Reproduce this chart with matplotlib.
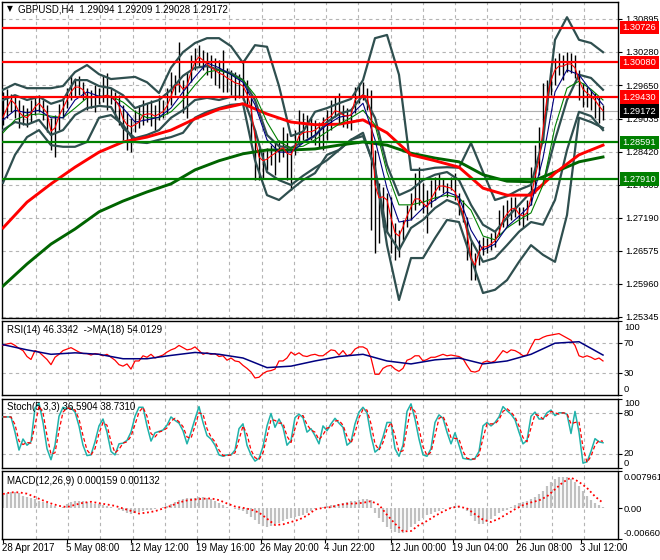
import numpy as np
import matplotlib
matplotlib.use("Agg")
import matplotlib.pyplot as plt
import matplotlib.transforms as mtransforms

plt.rcParams['font.family'] = ['Liberation Sans', 'DejaVu Sans']
plt.rcParams['font.size'] = 7

# ---------------- data ----------------
header = "GBPUSD,H4  1.29094 1.29209 1.29028 1.29172"
last_price = 1.29172
red_levels = [1.30726, 1.30080, 1.29430]
green_levels = [1.28591, 1.27910]
price_ticks = [1.30895, 1.30280, 1.29650, 1.29035, 1.28420,
               1.27805, 1.27190, 1.26575, 1.25960, 1.25345]
date_labels = ['28 Apr 2017', '5 May 08:00', '12 May 12:00', '19 May 16:00',
               '26 May 20:00', '4 Jun 22:00', '12 Jun 00:00', '19 Jun 04:00',
               '26 Jun 08:00', '3 Jul 12:00']
date_bar = [0, 16, 32, 48.5, 64.5, 80.5, 97, 112.5, 128.5, 144.5]

bar_high = [1.2953, 1.2958, 1.2949, 1.2944, 1.2938, 1.2929, 1.2923, 1.2938, 1.2942, 1.2947,
            1.2938, 1.2929, 1.2905, 1.2910, 1.2931, 1.2942, 1.2960, 1.2985, 1.2979, 1.2983,
            1.2971, 1.2960, 1.2957, 1.2966, 1.2960, 1.2985, 1.2988, 1.2960, 1.2953, 1.2947,
            1.2929, 1.2916, 1.2905, 1.2919, 1.2929, 1.2938, 1.2932, 1.2938, 1.2929, 1.2947,
            1.2938, 1.2960, 1.2990, 1.2985, 1.3046, 1.2975, 1.2990, 1.3022, 1.3035, 1.3040,
            1.3031, 1.3027, 1.3022, 1.3016, 1.3012, 1.3031, 1.2998, 1.2994, 1.2990, 1.2986,
            1.3012, 1.2975, 1.2942, 1.2882, 1.2849, 1.2841, 1.2849, 1.2854, 1.2860, 1.2864,
            1.2888, 1.2877, 1.2845, 1.2882, 1.2919, 1.2914, 1.2910, 1.2905, 1.2901, 1.2897,
            1.2906, 1.2919, 1.2938, 1.2944, 1.2951, 1.2929, 1.2923, 1.2919, 1.2962, 1.2970,
            1.2971, 1.2960, 1.2957, 1.2845, 1.2784, 1.2776, 1.2765, 1.2758, 1.2709, 1.2696,
            1.2715, 1.2743, 1.2765, 1.2802, 1.2813, 1.2784, 1.2771, 1.2789, 1.2795, 1.2802,
            1.2793, 1.2784, 1.2795, 1.2802, 1.2765, 1.2752, 1.2720, 1.2678, 1.2653, 1.2678,
            1.2683, 1.2681, 1.2691, 1.2696, 1.2733, 1.2743, 1.2752, 1.2758, 1.2758, 1.2739,
            1.2739, 1.2752, 1.2813, 1.2854, 1.2888, 1.2970, 1.2975, 1.2999, 1.3016, 1.3025,
            1.3022, 1.3027, 1.3025, 1.3022, 1.2994, 1.2970, 1.2962, 1.2957, 1.2951, 1.2944,
            1.2929]
bar_low = [1.2892, 1.2905, 1.2916, 1.2905, 1.2886, 1.2892, 1.2888, 1.2897, 1.2910, 1.2916,
           1.2901, 1.2879, 1.2845, 1.2832, 1.2882, 1.2905, 1.2923, 1.2938, 1.2945, 1.2947,
           1.2938, 1.2919, 1.2923, 1.2916, 1.2931, 1.2934, 1.2919, 1.2931, 1.2905, 1.2892,
           1.2864, 1.2845, 1.2841, 1.2879, 1.2886, 1.2892, 1.2897, 1.2890, 1.2882, 1.2901,
           1.2905, 1.2912, 1.2929, 1.2947, 1.2953, 1.2914, 1.2905, 1.2971, 1.2994, 1.3001,
           1.2994, 1.2985, 1.2979, 1.2966, 1.2960, 1.2953, 1.2953, 1.2947, 1.2938, 1.2942,
           1.2938, 1.2929, 1.2858, 1.2789, 1.2789, 1.2793, 1.2808, 1.2817, 1.2799, 1.2823,
           1.2832, 1.2789, 1.2771, 1.2836, 1.2854, 1.2864, 1.2867, 1.2864, 1.2854, 1.2849,
           1.2845, 1.2864, 1.2882, 1.2906, 1.2895, 1.2888, 1.2886, 1.2882, 1.2914, 1.2932,
           1.2938, 1.2919, 1.2696, 1.2653, 1.2672, 1.2702, 1.2691, 1.2653, 1.2640, 1.2646,
           1.2678, 1.2702, 1.2715, 1.2733, 1.2743, 1.2728, 1.2691, 1.2739, 1.2752, 1.2771,
           1.2765, 1.2758, 1.2771, 1.2752, 1.2724, 1.2711, 1.2640, 1.2603, 1.2603, 1.2631,
           1.2650, 1.2653, 1.2659, 1.2665, 1.2687, 1.2702, 1.2702, 1.2715, 1.2720, 1.2706,
           1.2702, 1.2715, 1.2743, 1.2765, 1.2799, 1.2858, 1.2919, 1.2947, 1.2966, 1.2985,
           1.2975, 1.2990, 1.2988, 1.2979, 1.2938, 1.2925, 1.2925, 1.2919, 1.2905, 1.2895,
           1.2901]
ma_fast = [1.2906, 1.2923, 1.2938, 1.2931, 1.2916, 1.2908, 1.2905, 1.2914, 1.2925, 1.2932,
           1.2923, 1.2914, 1.2880, 1.2886, 1.2908, 1.2923, 1.2938, 1.2953, 1.2962, 1.2962,
           1.2957, 1.2944, 1.2942, 1.2944, 1.2944, 1.2945, 1.2947, 1.2944, 1.2938, 1.2927,
           1.2903, 1.2892, 1.2888, 1.2892, 1.2897, 1.2910, 1.2912, 1.2912, 1.2908, 1.2912,
           1.2916, 1.2927, 1.2945, 1.2964, 1.2968, 1.2958, 1.2964, 1.2990, 1.3009, 1.3018,
           1.3012, 1.3005, 1.2999, 1.2994, 1.2988, 1.2985, 1.2979, 1.2975, 1.2970, 1.2968,
           1.2964, 1.2949, 1.2923, 1.2869, 1.2832, 1.2825, 1.2828, 1.2834, 1.2839, 1.2845,
           1.2849, 1.2839, 1.2836, 1.2851, 1.2871, 1.2877, 1.2879, 1.2879, 1.2882, 1.2888,
           1.2897, 1.2903, 1.2908, 1.2918, 1.2916, 1.2910, 1.2908, 1.2910, 1.2938, 1.2944,
           1.2947, 1.2945, 1.2910, 1.2780, 1.2756, 1.2758, 1.2752, 1.2719, 1.2691, 1.2685,
           1.2702, 1.2722, 1.2739, 1.2754, 1.2754, 1.2746, 1.2739, 1.2754, 1.2767, 1.2778,
           1.2778, 1.2776, 1.2774, 1.2767, 1.2745, 1.2728, 1.2691, 1.2644, 1.2631, 1.2655,
           1.2665, 1.2665, 1.2670, 1.2676, 1.2691, 1.2715, 1.2726, 1.2735, 1.2737, 1.2726,
           1.2722, 1.2728, 1.2756, 1.2795, 1.2826, 1.2882, 1.2942, 1.2975, 1.2994, 1.3001,
           1.3001, 1.3005, 1.3005, 1.2998, 1.2975, 1.2958, 1.2951, 1.2945, 1.2938, 1.2927,
           1.2918]

# lines sampled every 3 bars
ma_blue = [1.2901, 1.2919, 1.2914, 1.2919, 1.2905, 1.2905, 1.2938, 1.2953, 1.2945, 1.2944,
           1.2923, 1.2897, 1.2901, 1.2906, 1.2923, 1.2953, 1.2981, 1.3007, 1.2998, 1.2985,
           1.2971, 1.2929, 1.2864, 1.2841, 1.2841, 1.2858, 1.2873, 1.2892, 1.2906, 1.2910,
           1.2932, 1.2864, 1.2774, 1.2711, 1.2715, 1.2737, 1.2752, 1.2767, 1.2758, 1.2696,
           1.2659, 1.2670, 1.2702, 1.2722, 1.2743, 1.2830, 1.2953, 1.2994, 1.2985, 1.2955,
           1.2929]
ma_green = [1.2877, 1.2901, 1.2910, 1.2912, 1.2908, 1.2905, 1.2923, 1.2942, 1.2945, 1.2945,
            1.2934, 1.2916, 1.2905, 1.2905, 1.2916, 1.2938, 1.2966, 1.2990, 1.2994, 1.2986,
            1.2975, 1.2947, 1.2897, 1.2860, 1.2849, 1.2852, 1.2864, 1.2879, 1.2893, 1.2905,
            1.2919, 1.2892, 1.2804, 1.2743, 1.2743, 1.2748, 1.2756, 1.2761, 1.2756, 1.2733,
            1.2685, 1.2678, 1.2700, 1.2715, 1.2728, 1.2780, 1.2888, 1.2960, 1.2973, 1.2958,
            1.2938]
bb_outer_up = [1.2957, 1.2968, 1.2960, 1.2960, 1.2960, 1.2964, 1.2990, 1.3003, 1.2986, 1.2977,
               1.2979, 1.2981, 1.2971, 1.2951, 1.2998, 1.3027, 1.3044, 1.3053, 1.3053, 1.3038,
               1.3007, 1.3040, 1.3037, 1.2964, 1.2871, 1.2879, 1.2916, 1.2923, 1.2932, 1.2940,
               1.2975, 1.3053, 1.3059, 1.2985, 1.2808, 1.2808, 1.2812, 1.2813, 1.2812, 1.2858,
               1.2804, 1.2752, 1.2759, 1.2771, 1.2780, 1.2864, 1.3050, 1.3092, 1.3050, 1.3044,
               1.3027]
bb_inner_up = [1.2938, 1.2947, 1.2938, 1.2944, 1.2931, 1.2938, 1.2975, 1.2975, 1.2964, 1.2960,
               1.2947, 1.2923, 1.2931, 1.2938, 1.2957, 1.2983, 1.2998, 1.3001, 1.2994, 1.2988,
               1.2975, 1.2938, 1.2873, 1.2852, 1.2849, 1.2860, 1.2871, 1.2897, 1.2912, 1.2919,
               1.2947, 1.2905, 1.2817, 1.2761, 1.2771, 1.2789, 1.2799, 1.2804, 1.2789, 1.2743,
               1.2706, 1.2693, 1.2719, 1.2743, 1.2767, 1.2780, 1.2864, 1.2938, 1.2985, 1.2979,
               1.2957]
bb_inner_low = [1.2882, 1.2897, 1.2892, 1.2901, 1.2873, 1.2882, 1.2910, 1.2923, 1.2927, 1.2925,
                1.2886, 1.2867, 1.2873, 1.2882, 1.2905, 1.2919, 1.2938, 1.2942, 1.2938, 1.2944,
                1.2944, 1.2882, 1.2804, 1.2789, 1.2780, 1.2797, 1.2812, 1.2826, 1.2845, 1.2864,
                1.2877, 1.2808, 1.2693, 1.2659, 1.2700, 1.2715, 1.2737, 1.2752, 1.2743, 1.2678,
                1.2637, 1.2644, 1.2668, 1.2693, 1.2711, 1.2706, 1.2752, 1.2845, 1.2916, 1.2908,
                1.2882]
bb_outer_low = [1.2784, 1.2836, 1.2869, 1.2882, 1.2854, 1.2851, 1.2851, 1.2860, 1.2905, 1.2910,
                1.2892, 1.2860, 1.2858, 1.2864, 1.2869, 1.2877, 1.2905, 1.2916, 1.2923, 1.2929,
                1.2931, 1.2826, 1.2761, 1.2752, 1.2771, 1.2789, 1.2802, 1.2836, 1.2845, 1.2864,
                1.2871, 1.2813, 1.2668, 1.2566, 1.2644, 1.2644, 1.2681, 1.2715, 1.2711, 1.2644,
                1.2579, 1.2585, 1.2603, 1.2637, 1.2668, 1.2650, 1.2637, 1.2724, 1.2905, 1.2897,
                1.2886]

# slow averages sampled every 6 bars
ma_slow_red = [1.2700, 1.2748, 1.2782, 1.2813, 1.2841, 1.2860, 1.2869, 1.2882, 1.2903, 1.2921,
               1.2931, 1.2912, 1.2897, 1.2892, 1.2893, 1.2901, 1.2877, 1.2836, 1.2825, 1.2813,
               1.2774, 1.2761, 1.2761, 1.2802, 1.2836, 1.2854]
ma_slow_green = [1.2592, 1.2633, 1.2670, 1.2698, 1.2730, 1.2750, 1.2767, 1.2782, 1.2808, 1.2825,
                 1.2838, 1.2845, 1.2845, 1.2847, 1.2854, 1.2860, 1.2854, 1.2839, 1.2830, 1.2823,
                 1.2799, 1.2787, 1.2786, 1.2804, 1.2823, 1.2832]

rsi = [67, 69, 70, 67, 63, 60, 52, 48, 60, 58, 53, 48, 41, 51, 55, 60, 62, 64, 61, 58,
       56, 56, 54, 56, 55, 53, 55, 51, 47, 41, 39, 42, 35, 46, 46, 53, 51, 55, 50, 52,
       54, 58, 61, 63, 67, 64, 61, 62, 65, 60, 55, 57, 55, 56, 52, 53, 47, 50, 46, 45,
       40, 36, 31, 23, 24, 29, 32, 33, 35, 46, 46, 50, 58, 54, 57, 53, 52, 54, 55, 53,
       53, 57, 61, 60, 54, 60, 53, 55, 62, 65, 65, 62, 50, 28, 28, 36, 39, 40, 35, 32,
       36, 47, 49, 53, 53, 46, 48, 51, 51, 53, 55, 53, 54, 53, 52, 49, 40, 32, 31, 33,
       44, 46, 44, 46, 53, 60, 57, 61, 60, 57, 53, 54, 65, 75, 75, 78, 80, 81, 82, 83,
       80, 77, 74, 67, 53, 51, 53, 51, 48, 50, 46]
rsi_ma = [68, 61, 55, 57, 55, 49, 49, 53.5, 57.5, 55, 50, 37, 39, 46, 52, 55, 46, 42,
          47.5, 50, 42, 46, 55, 70, 72, 54]

stoch_main = [74, 74, 74, 52, 26, 42, 33, 38, 87, 94, 66, 28, 12, 33, 75, 88, 86, 87, 81, 61,
              33, 18, 19, 38, 61, 71, 52, 24, 19, 35, 36, 40, 52, 75, 88, 88, 61, 39, 51, 53,
              55, 62, 74, 69, 65, 54, 35, 52, 71, 89, 66, 47, 42, 33, 19, 17, 19, 19, 26, 57,
              64, 33, 19, 10, 14, 31, 61, 79, 59, 71, 59, 33, 40, 73, 78, 73, 52, 57, 47, 35,
              61, 54, 64, 72, 65, 59, 33, 38, 64, 81, 88, 80, 47, 23, 28, 45, 66, 66, 28, 17,
              33, 82, 93, 71, 42, 19, 17, 28, 66, 77, 72, 52, 35, 51, 33, 14, 13, 12, 14, 24,
              61, 66, 61, 66, 74, 89, 83, 78, 70, 52, 35, 40, 75, 81, 71, 71, 80, 84, 76, 80,
              80, 78, 50, 82, 52, 7, 9, 24, 42.5, 38, 36.6]
stoch_signal = [74, 74, 74, 63, 39, 34, 37, 36, 62, 90, 80, 47, 20, 22, 54, 81, 87, 86, 84, 71,
                47, 26, 19, 28, 50, 66, 62, 38, 22, 27, 36, 38, 46, 63, 81, 88, 75, 50, 45, 52,
                54, 58, 68, 72, 67, 60, 45, 43, 61, 80, 78, 57, 45, 38, 26, 18, 18, 19, 22, 41,
                61, 49, 26, 15, 12, 22, 46, 70, 69, 65, 65, 46, 37, 57, 75, 76, 63, 55, 52, 41,
                48, 58, 59, 68, 69, 62, 46, 36, 51, 73, 85, 84, 64, 35, 26, 37, 56, 66, 47, 23,
                25, 58, 88, 82, 57, 31, 18, 23, 47, 72, 75, 62, 44, 43, 42, 24, 14, 13, 13, 19,
                43, 64, 64, 64, 70, 82, 86, 81, 74, 61, 44, 38, 58, 78, 76, 71, 76, 82, 80, 78,
                80, 79, 64, 66, 67, 30, 8, 17, 33, 40, 38.7]

macd_hist = [0.00288, 0.00324, 0.00346, 0.00346, 0.00332, 0.00267, 0.00231, 0.00224, 0.00187, 0.00159,
             0.00137, 0.00101, 0.00072, 0.00036, 0.00014, 0.00029, 0.00079, 0.00130, 0.00159, 0.00159,
             0.00151, 0.00130, 0.00115, 0.00094, 0.00079, 0.00065, 0.00043, 0.00029, 0.00007, -0.00029,
             -0.00058, -0.00094, -0.00115, -0.00094, -0.00072, -0.00058, -0.00043, -0.00029, -0.00007, 0.00007,
             0.00022, 0.00050, 0.00087, 0.00137, 0.00173, 0.00202, 0.00209, 0.00209, 0.00216, 0.00231,
             0.00231, 0.00216, 0.00195, 0.00159, 0.00108, 0.00065, 0.00022, 0.0, -0.00014, -0.00036,
             -0.00065, -0.00123, -0.00195, -0.00260, -0.00332, -0.00389, -0.00404, -0.00382, -0.00346, -0.00310,
             -0.00267, -0.00238, -0.00209, -0.00187, -0.00173, -0.00144, -0.00101, -0.00058, -0.00022, 0.0,
             0.00022, 0.00036, 0.00058, 0.00072, 0.00087, 0.00101, 0.00123, 0.00144, 0.00159, 0.00173,
             0.00187, 0.00195, 0.00173, -0.00094, -0.00202, -0.00303, -0.00397, -0.00454, -0.00505, -0.00526,
             -0.00526, -0.00476, -0.00404, -0.00339, -0.00267, -0.00202, -0.00144, -0.00115, -0.00079, -0.00050,
             -0.00014, 0.00007, 0.00022, 0.00036, 0.00036, 0.00007, -0.00065, -0.00166, -0.00267, -0.00332,
             -0.00339, -0.00303, -0.00238, -0.00166, -0.00101, -0.00058, -0.00029, 0.00022, 0.00058, 0.00101,
             0.00130, 0.00159, 0.00195, 0.00245, 0.00296, 0.00368, 0.00469, 0.00570, 0.00634, 0.00663,
             0.00678, 0.00663, 0.00627, 0.00562, 0.00469, 0.00361, 0.00260, 0.00180, 0.00115, 0.00065,
             0.00016]
# signal sampled every 2 bars
macd_signal = [0.00303, 0.00339, 0.00339, 0.00310, 0.00238, 0.00166, 0.00101, 0.00050, 0.00022, 0.00072,
               0.00115, 0.00137, 0.00108, 0.00079, 0.00050, -0.00007, -0.00058, -0.00115, -0.00094, -0.00065,
               -0.00007, 0.00050, 0.00123, 0.00166, 0.00187, 0.00202, 0.00209, 0.00173, 0.00101, 0.00036,
               0.00007, -0.00029, -0.00094, -0.00224, -0.00361, -0.00346, -0.00296, -0.00245, -0.00159, -0.00029,
               0.00007, 0.00022, 0.00072, 0.00094, 0.00101, 0.00115, 0.00151, 0.00072, -0.00144, -0.00332,
               -0.00497, -0.00490, -0.00361, -0.00274, -0.00166, -0.00072, 0.00007, 0.00036, -0.00007, -0.00130,
               -0.00245, -0.00296, -0.00224, -0.00123, -0.00022, 0.00065, 0.00123, 0.00166, 0.00252, 0.00404,
               0.00555, 0.00656, 0.00562, 0.00433, 0.00252, 0.00113]

# ---------------- drawing ----------------
bars = np.arange(len(bar_high))
band_x = np.arange(0, len(bar_high), 3)
slow_x = np.arange(0, len(bar_high), 6)
sig_x = np.arange(0, len(bar_high), 2)
grid_x = np.arange(8.25, 153, 8.06)

W, H = 660.0, 560.0
fig = plt.figure(figsize=(6.6, 5.6), dpi=100)
grid_kw = dict(color='#b4b4b4', lw=0.8, ls=(0, (3, 3)), zorder=0)
label_size = 6.7


def panel(top, bottom):
    a = fig.add_axes([2 / W, 1 - bottom / H, 616 / W, (bottom - top) / H])
    a.set_xlim(-0.25, 153.75)
    for s in a.spines.values():
        s.set_linewidth(1.0)
        s.set_color('black')
    a.set_xticks([])
    for g in grid_x:
        a.axvline(g, **grid_kw)
    a.yaxis.tick_right()
    a.tick_params(axis='y', length=3, width=0.8, labelright=False)
    return a


def right_label(text, ypx):
    fig.text(624 / W, 1 - ypx / H, text, ha='left', va='center', fontsize=label_size)


ax = panel(2, 318)
ax_rsi = panel(321, 395)
ax_sto = panel(399, 468)
ax_macd = panel(471, 539)

# main price window
ax.set_ylim(1.25325, 1.31203)
for p in price_ticks:
    ax.axhline(p, **grid_kw)
ax.set_yticks(price_ticks)
ax.set_yticklabels(['%.5f' % p for p in price_ticks])
ax.tick_params(axis='y', labelright=True, pad=2, labelsize=label_size)

ax.axhline(last_price, color='#b0b0b0', lw=0.8, zorder=1)
ax.vlines(bars, bar_low, bar_high, color='black', lw=1.0, zorder=2)
for band in (bb_outer_up, bb_inner_up, bb_inner_low, bb_outer_low):
    ax.plot(band_x, band, color='#2f4f4f', lw=1.6, zorder=3, solid_joinstyle='round')
ax.plot(slow_x, ma_slow_green, color='#006400', lw=2.1, zorder=3.5)
ax.plot(slow_x, ma_slow_red, color='#ff0000', lw=2.1, zorder=3.5)
ax.plot(band_x, ma_green, color='#008000', lw=0.8, zorder=4)
ax.plot(band_x, ma_blue, color='#000080', lw=0.8, zorder=4)
ax.plot(bars, ma_fast, color='#ff0000', lw=0.8, zorder=4)

ytrans = mtransforms.blended_transform_factory(ax.transAxes, ax.transData)
box_levels = [(p, '#ff0000') for p in red_levels] + [(p, '#008000') for p in green_levels]
for p, c in box_levels:
    ax.axhline(p, color=c, lw=1.6, zorder=5)
for p, c in box_levels + [(last_price, 'black')]:
    ax.text(1.0075, p, '%.5f' % p, transform=ytrans, ha='left', va='center',
            color='white', fontsize=label_size, clip_on=False, zorder=10,
            bbox=dict(boxstyle='square,pad=0.25', fc=c, ec='none'))

ax.text(5 / 616, 1 - 7 / 316, '\u25bc', transform=ax.transAxes, ha='left', va='center',
        fontsize=5.5, family=['DejaVu Sans'])
ax.text(16 / 616, 1 - 7 / 316, header, transform=ax.transAxes, ha='left', va='center')

# RSI
ax_rsi.set_ylim(0, 100)
for lv in (70, 30):
    ax_rsi.axhline(lv, **grid_kw)
ax_rsi.plot(bars, rsi, color='#ff0000', lw=0.9, zorder=3)
ax_rsi.plot(slow_x, rsi_ma, color='#000080', lw=1.1, zorder=4)
ax_rsi.set_yticks([100, 70, 30, 0])
ax_rsi.text(5 / 616, 0.88, 'RSI(14) 46.3342  ->MA(18) 54.0129', transform=ax_rsi.transAxes,
            ha='left', va='center')
for t, y in [('100', 327), ('70', 344), ('30', 373), ('0', 389)]:
    right_label(t, y)

# Stochastic
ax_sto.set_ylim(0, 100)
for lv in (80, 20):
    ax_sto.axhline(lv, **grid_kw)
ax_sto.plot(bars, stoch_main, color='#20b2aa', lw=1.1, zorder=3)
ax_sto.plot(bars, stoch_signal, color='#ff0000', lw=0.9, ls=(0, (3, 2)), zorder=4)
ax_sto.set_yticks([100, 80, 20, 0])
ax_sto.text(5 / 616, 0.885, 'Stoch(5,3,3) 36.5904 38.7310', transform=ax_sto.transAxes,
            ha='left', va='center')
for t, y in [('100', 404), ('80', 413), ('20', 453), ('0', 463)]:
    right_label(t, y)

# MACD
ax_macd.set_ylim(-0.006601, 0.007961)
ax_macd.vlines(bars, 0, macd_hist, color='#c0c0c0', lw=1.6, zorder=2)
ax_macd.plot(sig_x, macd_signal, color='#ff0000', lw=1.3, ls=(0, (1, 1.5)), zorder=4)
ax_macd.set_yticks([0.007961, 0.0, -0.006601])
ax_macd.text(5 / 616, 0.85, 'MACD(12,26,9) 0.000159 0.001132', transform=ax_macd.transAxes,
             ha='left', va='center')
for t, y in [('0.007961', 478), ('0.00', 509), ('-0.006601', 533)]:
    right_label(t, y)

ax_macd.set_xticks(date_bar)
ax_macd.tick_params(axis='x', length=3, width=0.8, labelbottom=False)
xtrans = mtransforms.blended_transform_factory(ax_macd.transData, ax_macd.transAxes)
for k, lbl in zip(date_bar, date_labels):
    ax_macd.text(k - 0.3, -0.135, lbl, transform=xtrans, ha='left', va='center', clip_on=False)

fig.savefig('out.png', dpi=100)
